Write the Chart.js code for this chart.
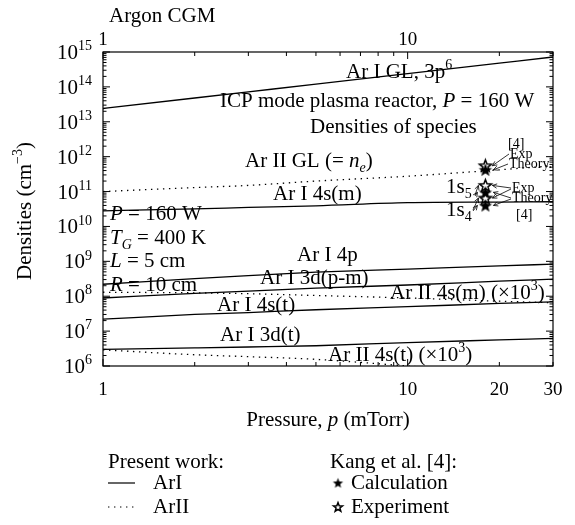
<!DOCTYPE html>
<html>
<head>
<meta charset="utf-8">
<script src="https://cdn.jsdelivr.net/npm/chart.js@4.4.1/dist/chart.umd.min.js"></script>
<style>
  html, body { margin: 0; padding: 0; background: #fff; }
  canvas { display: block; }
</style>
</head>
<body>
<canvas id="chart" width="575" height="525"></canvas>
<script>
// Pressure grid (mTorr) shared by all computed density curves
const pressure = [1, 2, 3, 5, 10, 20, 30];

// Present work, neutral argon (Ar I) densities, cm^-3
const arIGround   = [2.4e13, 4.8e13, 7.2e13, 1.2e14, 2.4e14, 4.8e14, 7.2e14];
const arI4sM      = [2.8e10, 3.2e10, 3.5e10, 3.9e10, 4.8e10, 5.0e10, 5.1e10];
const arI4p       = [2.2e8, 3.2e8, 3.9e8, 4.9e8, 6.0e8, 7.4e8, 8.3e8];
const arI3dPM     = [8.9e7, 1.2e8, 1.4e8, 1.7e8, 2.1e8, 2.7e8, 3.1e8];
const arI4sT      = [2.2e7, 3.0e7, 3.4e7, 4.1e7, 5.0e7, 6.2e7, 6.9e7];
const arI3dT      = [3.0e6, 3.3e6, 3.5e6, 3.8e6, 4.7e6, 5.6e6, 6.2e6];

// Present work, ion (Ar II) densities, cm^-3 (excited ions scaled by 10^3)
const arIIGround  = [1.0e11, 1.3e11, 1.5e11, 2.0e11, 2.75e11, 4.2e11, 5.5e11];
const arII4sM     = [1.3e8, 1.25e8, 1.18e8, 1.05e8, 8.9e7, 7.2e7, 6.5e7];
const arII4sT     = [2.9e6, 2.1e6, 1.85e6, 1.55e6, 1.0e6, 6.3e5, 5.0e5];

// Kang et al. [4] at 18 mTorr: ion ground level, 1s5, 1s4
const kangPressure    = 18;
const kangCalculation = [4.2e11, 9.5e10, 4.0e10];
const kangExperiment  = [5.5e11, 1.5e11, 6.5e10];

// Tick labels
const bottomTickLabels = [1, 10, 20, 30];
const topTickLabels    = [1, 10];
const densityExponents = [6, 7, 8, 9, 10, 11, 12, 13, 14, 15];

const FAMILY = '"Liberation Serif", "Times New Roman", serif';
const fontOf = (size, italic) => (italic ? 'italic ' : '') + size + 'px ' + FAMILY;

// Draws a run of text pieces; flags: i = italic, ^ = superscript, _ = subscript
function rich(ctx, pieces, x, y, size, align) {
  const parts = pieces.map(([t, f = '']) => {
    const small = f.includes('^') || f.includes('_');
    const s = small ? Math.round(size * 0.68) : size;
    const fnt = fontOf(s, f.includes('i'));
    ctx.font = fnt;
    const w = ctx.measureText(t).width;
    const dy = f.includes('^') ? -size * 0.42 : (f.includes('_') ? size * 0.24 : 0);
    return { t, fnt, w, dy };
  });
  const total = parts.reduce((a, p) => a + p.w, 0);
  let cx = align === 'center' ? x - total / 2 : (align === 'right' ? x - total : x);
  ctx.textAlign = 'left';
  ctx.textBaseline = 'alphabetic';
  parts.forEach(p => { ctx.font = p.fnt; ctx.fillText(p.t, cx, y + p.dy); cx += p.w; });
  return total;
}

// Five-pointed star sprite used as point style
function starSprite(outer, filled) {
  const pad = 2, size = Math.ceil(outer * 2 + pad * 2);
  const c = document.createElement('canvas');
  c.width = size; c.height = size;
  const g = c.getContext('2d');
  const cx = size / 2, cy = size / 2 + outer * 0.08, inner = outer * 0.42;
  g.beginPath();
  for (let k = 0; k < 10; k++) {
    const r = k % 2 === 0 ? outer : inner;
    const a = -Math.PI / 2 + k * Math.PI / 5;
    const px = cx + r * Math.cos(a), py = cy + r * Math.sin(a);
    k === 0 ? g.moveTo(px, py) : g.lineTo(px, py);
  }
  g.closePath();
  if (filled) { g.fillStyle = '#000'; g.fill(); }
  else { g.fillStyle = '#fff'; g.fill(); g.lineWidth = 1.5; g.strokeStyle = '#000'; g.stroke(); }
  return c;
}
const starFilled = starSprite(7, true);
const starOpen = starSprite(6.3, false);
const starFilledSmall = starSprite(5.4, true);
const starOpenSmall = starSprite(4.8, false);

const pts = vals => pressure.map((p, i) => ({ x: p, y: vals[i] }));
const SOLID = [];
const DOTTED = [1.4, 4.6];

function curve(vals, dash) {
  return {
    data: pts(vals), showLine: true, pointRadius: 0, borderColor: '#000',
    borderWidth: 1.3, borderDash: dash, fill: false,
    cubicInterpolationMode: 'monotone', xAxisID: 'x', yAxisID: 'y'
  };
}

const datasets = [
  curve(arIGround, SOLID), curve(arI4sM, SOLID), curve(arI4p, SOLID),
  curve(arI3dPM, SOLID), curve(arI4sT, SOLID), curve(arI3dT, SOLID),
  curve(arIIGround, DOTTED), curve(arII4sM, DOTTED), curve(arII4sT, DOTTED),
  {
    data: kangCalculation.map(v => ({ x: kangPressure, y: v })),
    pointStyle: starFilled, pointRadius: 7, showLine: false, xAxisID: 'x', yAxisID: 'y'
  },
  {
    data: kangExperiment.map(v => ({ x: kangPressure, y: v })),
    pointStyle: starOpen, pointRadius: 7, showLine: false, xAxisID: 'x', yAxisID: 'y'
  }
];

// Static labels drawn on the plot (left x, baseline y, size, pieces)
const plotLabels = [
  [346, 78, 21, [['Ar I GL, 3p'], ['6', '^']]],
  [220, 107, 21, [['ICP mode plasma reactor, '], ['P', 'i'], [' = 160 W']]],
  [310, 133, 21, [['Densities of species']]],
  [245, 167, 21, [['Ar II GL (= '], ['n', 'i'], ['e', 'i_'], [')']]],
  [273, 200, 21, [['Ar I 4s(m)']]],
  [110, 220, 21, [['P', 'i'], [' = 160 W']]],
  [110, 244, 21, [['T', 'i'], ['G', 'i_'], [' = 400 K']]],
  [110, 267, 21, [['L', 'i'], [' = 5 cm']]],
  [110, 291, 21, [['R', 'i'], [' = 10 cm']]],
  [297, 261, 21, [['Ar I 4p']]],
  [260, 284, 21, [['Ar I 3d(p-m)']]],
  [390, 299, 21, [['Ar II 4s(m) (×10'], ['3', '^'], [')']]],
  [217, 311, 21, [['Ar I 4s(t)']]],
  [220, 341, 21, [['Ar I 3d(t)']]],
  [328, 361, 21, [['Ar II 4s(t) (×10'], ['3', '^'], [')']]]
];

function arrow(ctx, x1, y1, x2, y2) {
  ctx.beginPath(); ctx.moveTo(x1, y1); ctx.lineTo(x2, y2); ctx.stroke();
  const a = Math.atan2(y2 - y1, x2 - x1), h = 5;
  ctx.beginPath();
  ctx.moveTo(x2 - h * Math.cos(a - 0.45), y2 - h * Math.sin(a - 0.45));
  ctx.lineTo(x2, y2);
  ctx.lineTo(x2 - h * Math.cos(a + 0.45), y2 - h * Math.sin(a + 0.45));
  ctx.stroke();
}

const decorations = {
  id: 'decorations',
  afterDraw(chart) {
    const { ctx, chartArea: a, scales } = chart;
    const xs = scales.x, ys = scales.y;
    ctx.save();
    ctx.fillStyle = '#000';
    ctx.strokeStyle = '#000';

    // frame
    ctx.lineWidth = 1.2;
    ctx.strokeRect(a.left, a.top, a.right - a.left, a.bottom - a.top);

    // inward ticks on all four sides
    ctx.lineWidth = 1;
    const xTicks = [];
    for (let d = 1; d <= 10; d *= 10) for (let m = 1; m <= 9; m++) {
      const v = m * d; if (v <= 30) xTicks.push([v, m === 1]);
    }
    xTicks.forEach(([v, major]) => {
      const px = xs.getPixelForValue(v), len = major ? 7 : 4;
      ctx.beginPath();
      ctx.moveTo(px, a.bottom); ctx.lineTo(px, a.bottom - len);
      ctx.moveTo(px, a.top); ctx.lineTo(px, a.top + len);
      ctx.stroke();
    });
    densityExponents.forEach(e => {
      for (let m = 1; m <= 9; m++) {
        if (e === 15 && m > 1) break;
        const py = ys.getPixelForValue(m * Math.pow(10, e)), len = m === 1 ? 7 : 3.5;
        ctx.beginPath();
        ctx.moveTo(a.left, py); ctx.lineTo(a.left + len, py);
        ctx.moveTo(a.right, py); ctx.lineTo(a.right - len, py);
        ctx.stroke();
      }
    });

    // tick labels
    bottomTickLabels.forEach(v => rich(ctx, [[String(v)]], xs.getPixelForValue(v), a.bottom + 29, 19, 'center'));
    topTickLabels.forEach(v => rich(ctx, [[String(v)]], xs.getPixelForValue(v), a.top - 7, 19, 'center'));
    densityExponents.forEach(e => {
      const py = ys.getPixelForValue(Math.pow(10, e));
      rich(ctx, [['10'], [String(e), '^']], a.left - 11, py + 7, 21, 'right');
    });

    // titles
    rich(ctx, [['Argon CGM']], 109, 22, 21, 'left');
    rich(ctx, [['Pressure, '], ['p', 'i'], [' (mTorr)']], (a.left + a.right) / 2, 426, 21, 'center');
    ctx.save();
    ctx.translate(31, (a.top + a.bottom) / 2 + 2);
    ctx.rotate(-Math.PI / 2);
    rich(ctx, [['Densities (cm'], ['−3', '^'], [')']], 0, 0, 21, 'center');
    ctx.restore();

    // curve labels
    plotLabels.forEach(([x, y, s, p]) => rich(ctx, p, x, y, s, 'left'));

    // Kang et al. annotations with arrows
    const sx = xs.getPixelForValue(kangPressure);
    const cy = kangCalculation.map(v => ys.getPixelForValue(v));
    const ey = kangExperiment.map(v => ys.getPixelForValue(v));
    ctx.lineWidth = 0.8;
    rich(ctx, [['[4]']], 508, 148, 14, 'left');
    rich(ctx, [['Exp']], 510, 158, 14, 'left');
    rich(ctx, [['Theory.']], 509, 168, 14, 'left');
    arrow(ctx, 509, 154, sx + 7, ey[0]);
    arrow(ctx, 508, 164, sx + 8, cy[0]);

    rich(ctx, [['Exp']], 512, 192, 14, 'left');
    rich(ctx, [['Theory']], 512, 202, 14, 'left');
    rich(ctx, [['[4]']], 516, 219, 14, 'left');
    arrow(ctx, 511, 188, sx + 7, ey[1]);
    arrow(ctx, 511, 189, sx + 7, ey[2]);
    arrow(ctx, 511, 198, sx + 8, cy[1]);
    arrow(ctx, 511, 199, sx + 8, cy[2]);

    rich(ctx, [['1s'], ['5', '_']], 446, 193, 21, 'left');
    rich(ctx, [['1s'], ['4', '_']], 446, 216, 21, 'left');
    arrow(ctx, 475, 195, sx - 7, ey[1]);
    arrow(ctx, 475, 196, sx - 8, cy[1]);
    arrow(ctx, 473, 210, sx - 7, ey[2]);
    arrow(ctx, 473, 211, sx - 8, cy[2]);

    // legend
    rich(ctx, [['Present work:']], 108, 468, 21, 'left');
    ctx.lineWidth = 1.2;
    ctx.beginPath(); ctx.moveTo(108, 483); ctx.lineTo(135, 483); ctx.stroke();
    rich(ctx, [['ArI']], 153, 489, 21, 'left');
    ctx.setLineDash(DOTTED);
    ctx.beginPath(); ctx.moveTo(108, 507); ctx.lineTo(135, 507); ctx.stroke();
    ctx.setLineDash([]);
    rich(ctx, [['ArII']], 153, 513, 21, 'left');

    rich(ctx, [['Kang et al. [4]:']], 330, 468, 21, 'left');
    ctx.drawImage(starFilledSmall, 338 - starFilledSmall.width / 2, 483 - starFilledSmall.height / 2);
    rich(ctx, [['Calculation']], 351, 489, 21, 'left');
    ctx.drawImage(starOpenSmall, 338 - starOpenSmall.width / 2, 507 - starOpenSmall.height / 2);
    rich(ctx, [['Experiment']], 351, 513, 21, 'left');

    ctx.restore();
  }
};

new Chart(document.getElementById('chart'), {
  type: 'scatter',
  data: { datasets },
  options: {
    responsive: false,
    devicePixelRatio: 1,
    animation: false,
    layout: { padding: { left: 0, right: 22, top: 0, bottom: 0 } },
    plugins: { legend: { display: false }, tooltip: { enabled: false } },
    scales: {
      x: {
        type: 'logarithmic', position: 'bottom', min: 1, max: 30,
        grid: { display: false }, border: { display: false },
        ticks: { display: false },
        afterFit: s => { s.height = 159; }
      },
      xTop: {
        type: 'logarithmic', position: 'top', min: 1, max: 30,
        grid: { display: false }, border: { display: false },
        ticks: { display: false },
        afterFit: s => { s.height = 52; }
      },
      y: {
        type: 'logarithmic', position: 'left', min: 1e6, max: 1e15,
        grid: { display: false }, border: { display: false },
        ticks: { display: false },
        afterFit: s => { s.width = 103; }
      }
    }
  },
  plugins: [decorations]
});
</script>
</body>
</html>
